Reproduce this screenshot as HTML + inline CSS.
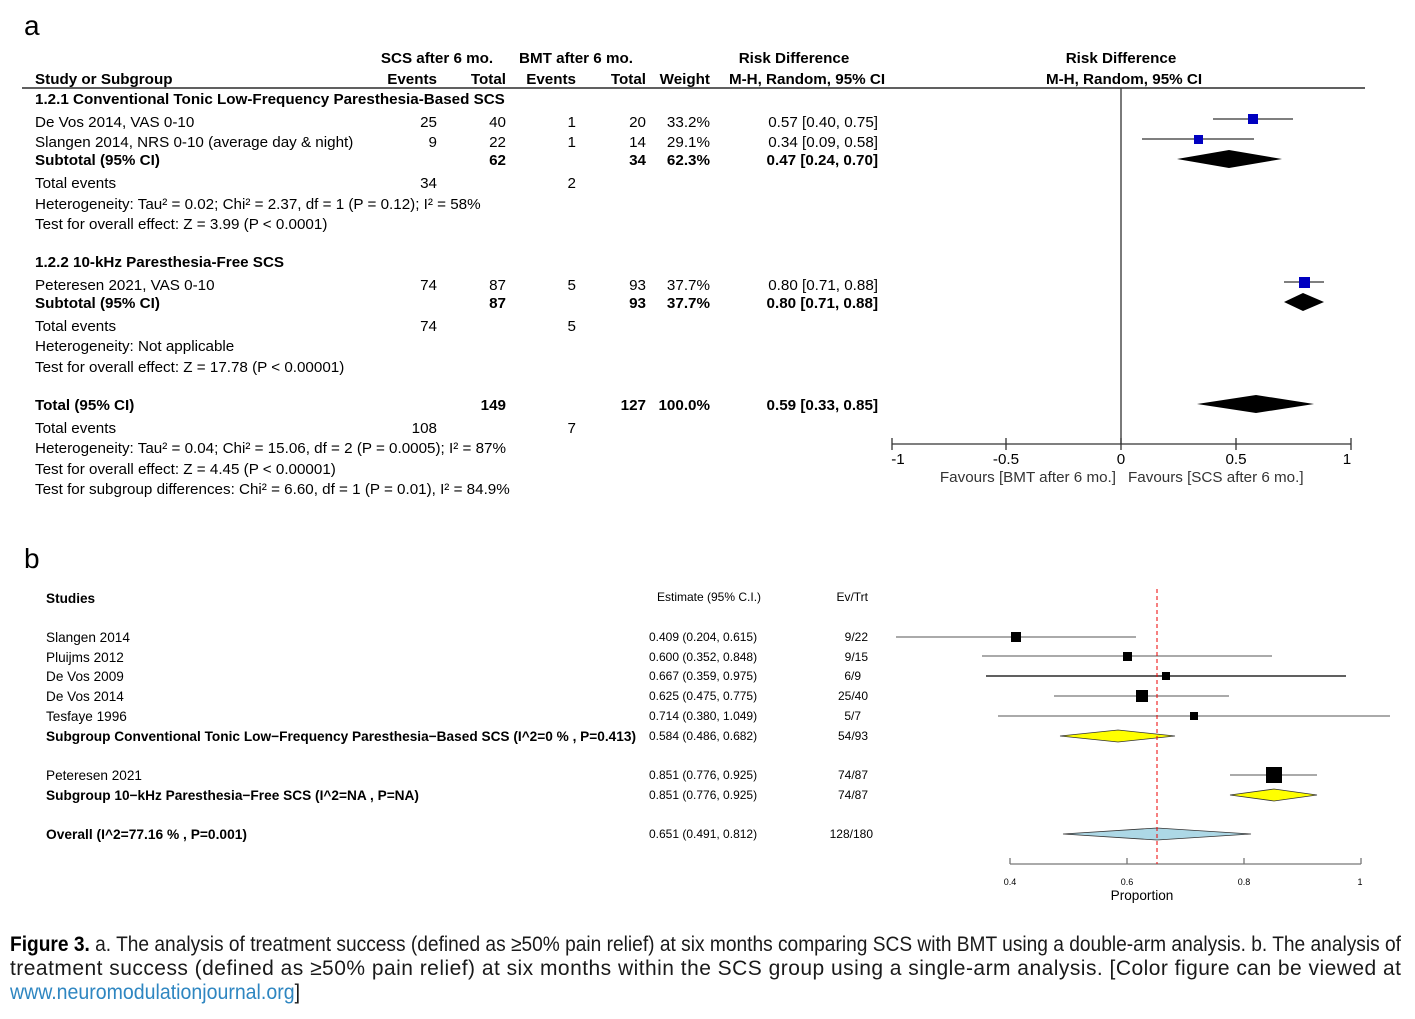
<!DOCTYPE html>
<html><head><meta charset="utf-8"><style>
html,body{margin:0;padding:0;background:#fff}
svg{display:block}
.a{font-family:"Liberation Sans",Arial,sans-serif;font-size:15.2px;fill:#000}
.b{font-weight:bold}
.p{font-family:"Liberation Sans Narrow","Liberation Sans",sans-serif;font-size:13.6px;fill:#000}
.e{font-family:"Liberation Sans Narrow","Liberation Sans",sans-serif;font-size:12px;fill:#000}
.c{font-family:"Liberation Sans Narrow","Liberation Sans",sans-serif;font-size:21px;fill:#1a1a1a}
</style></head><body>
<svg width="1415" height="1019" viewBox="0 0 1415 1019" xmlns="http://www.w3.org/2000/svg">
<text x="24" y="35" font-family="Liberation Sans,sans-serif" font-size="28">a</text>
<text x="24" y="568" font-family="Liberation Sans,sans-serif" font-size="28">b</text>
<g class="a b">
<text x="437" y="63" text-anchor="middle">SCS after 6 mo.</text>
<text x="576" y="63" text-anchor="middle">BMT after 6 mo.</text>
<text x="794" y="63" text-anchor="middle">Risk Difference</text>
<text x="1121" y="63" text-anchor="middle">Risk Difference</text>
<text x="35" y="84">Study or Subgroup</text>
<text x="437" y="84" text-anchor="end">Events</text>
<text x="506" y="84" text-anchor="end">Total</text>
<text x="576" y="84" text-anchor="end">Events</text>
<text x="646" y="84" text-anchor="end">Total</text>
<text x="710" y="84" text-anchor="end">Weight</text>
<text x="807" y="84" text-anchor="middle">M-H, Random, 95% CI</text>
<text x="1124" y="84" text-anchor="middle">M-H, Random, 95% CI</text>
<text x="35" y="104">1.2.1 Conventional Tonic Low-Frequency Paresthesia-Based SCS</text>
<text x="35" y="165">Subtotal (95% CI)</text>
<text x="506" y="165" text-anchor="end">62</text>
<text x="646" y="165" text-anchor="end">34</text>
<text x="710" y="165" text-anchor="end">62.3%</text>
<text x="878" y="165" text-anchor="end">0.47 [0.24, 0.70]</text>
<text x="35" y="267">1.2.2 10-kHz Paresthesia-Free SCS</text>
<text x="35" y="308">Subtotal (95% CI)</text>
<text x="506" y="308" text-anchor="end">87</text>
<text x="646" y="308" text-anchor="end">93</text>
<text x="710" y="308" text-anchor="end">37.7%</text>
<text x="878" y="308" text-anchor="end">0.80 [0.71, 0.88]</text>
<text x="35" y="410">Total (95% CI)</text>
<text x="506" y="410" text-anchor="end">149</text>
<text x="646" y="410" text-anchor="end">127</text>
<text x="710" y="410" text-anchor="end">100.0%</text>
<text x="878" y="410" text-anchor="end">0.59 [0.33, 0.85]</text>
</g>
<line x1="22" y1="88" x2="1365" y2="88" stroke="#000" stroke-width="1.3"/>
<g class="a">
<text x="35" y="127">De Vos 2014, VAS 0-10</text>
<text x="437" y="127" text-anchor="end">25</text><text x="506" y="127" text-anchor="end">40</text>
<text x="576" y="127" text-anchor="end">1</text><text x="646" y="127" text-anchor="end">20</text>
<text x="710" y="127" text-anchor="end">33.2%</text><text x="878" y="127" text-anchor="end">0.57 [0.40, 0.75]</text>
<text x="35" y="147">Slangen 2014, NRS 0-10 (average day &amp; night)</text>
<text x="437" y="147" text-anchor="end">9</text><text x="506" y="147" text-anchor="end">22</text>
<text x="576" y="147" text-anchor="end">1</text><text x="646" y="147" text-anchor="end">14</text>
<text x="710" y="147" text-anchor="end">29.1%</text><text x="878" y="147" text-anchor="end">0.34 [0.09, 0.58]</text>
<text x="35" y="188">Total events</text><text x="437" y="188" text-anchor="end">34</text><text x="576" y="188" text-anchor="end">2</text>
<text x="35" y="209">Heterogeneity: Tau² = 0.02; Chi² = 2.37, df = 1 (P = 0.12); I² = 58%</text>
<text x="35" y="229">Test for overall effect: Z = 3.99 (P &lt; 0.0001)</text>
<text x="35" y="290">Peteresen 2021, VAS 0-10</text>
<text x="437" y="290" text-anchor="end">74</text><text x="506" y="290" text-anchor="end">87</text>
<text x="576" y="290" text-anchor="end">5</text><text x="646" y="290" text-anchor="end">93</text>
<text x="710" y="290" text-anchor="end">37.7%</text><text x="878" y="290" text-anchor="end">0.80 [0.71, 0.88]</text>
<text x="35" y="331">Total events</text><text x="437" y="331" text-anchor="end">74</text><text x="576" y="331" text-anchor="end">5</text>
<text x="35" y="351">Heterogeneity: Not applicable</text>
<text x="35" y="372">Test for overall effect: Z = 17.78 (P &lt; 0.00001)</text>
<text x="35" y="433">Total events</text><text x="437" y="433" text-anchor="end">108</text><text x="576" y="433" text-anchor="end">7</text>
<text x="35" y="453">Heterogeneity: Tau² = 0.04; Chi² = 15.06, df = 2 (P = 0.0005); I² = 87%</text>
<text x="35" y="474">Test for overall effect: Z = 4.45 (P &lt; 0.00001)</text>
<text x="35" y="494">Test for subgroup differences: Chi² = 6.60, df = 1 (P = 0.01), I² = 84.9%</text>
</g>
<g stroke="#333" stroke-width="1.3">
<line x1="1121" y1="88" x2="1121" y2="444"/>
<line x1="892" y1="444" x2="1351" y2="444"/>
<line x1="892" y1="438" x2="892" y2="450"/><line x1="1006" y1="438" x2="1006" y2="450"/>
<line x1="1121" y1="438" x2="1121" y2="450"/><line x1="1236" y1="438" x2="1236" y2="450"/>
<line x1="1351" y1="438" x2="1351" y2="450"/>
<line x1="1213" y1="119" x2="1293" y2="119"/>
<line x1="1142" y1="139" x2="1254" y2="139"/>
<line x1="1284" y1="282" x2="1324" y2="282"/>
</g>
<g fill="#0000c0">
<rect x="1248" y="114" width="10" height="10"/>
<rect x="1194" y="135" width="9" height="9"/>
<rect x="1299" y="277" width="11" height="11"/>
</g>
<polygon points="1177,159 1229,150 1282,159 1229,168" fill="#000"/>
<polygon points="1284,302 1303,293 1324,302 1303,311" fill="#000"/>
<polygon points="1197,404 1256,395 1314,404 1256,413" fill="#000"/>
<g class="a">
<text x="898" y="464" text-anchor="middle">-1</text>
<text x="1006" y="464" text-anchor="middle">-0.5</text>
<text x="1121" y="464" text-anchor="middle">0</text>
<text x="1236" y="464" text-anchor="middle">0.5</text>
<text x="1347" y="464" text-anchor="middle">1</text>
<text x="1116" y="482" text-anchor="end" style="fill:#333">Favours [BMT after 6 mo.]</text>
<text x="1128" y="482" style="fill:#333">Favours [SCS after 6 mo.]</text>
</g>
<g class="p">
<text x="46" y="603" font-weight="bold">Studies</text>
<text x="46" y="642">Slangen 2014</text>
<text x="46" y="662">Pluijms 2012</text>
<text x="46" y="681">De Vos 2009</text>
<text x="46" y="701">De Vos 2014</text>
<text x="46" y="721">Tesfaye 1996</text>
<text x="46" y="741" font-weight="bold" textLength="590" lengthAdjust="spacingAndGlyphs">Subgroup Conventional Tonic Low−Frequency Paresthesia−Based SCS (I^2=0 % , P=0.413)</text>
<text x="46" y="780">Peteresen 2021</text>
<text x="46" y="800" font-weight="bold" textLength="373" lengthAdjust="spacingAndGlyphs">Subgroup 10−kHz Paresthesia−Free SCS (I^2=NA , P=NA)</text>
<text x="46" y="839" font-weight="bold" textLength="201" lengthAdjust="spacingAndGlyphs">Overall (I^2=77.16 % , P=0.001)</text>
</g>
<g class="e">
<text x="657" y="601">Estimate (95% C.I.)</text>
<text x="868" y="601" text-anchor="end">Ev/Trt</text>
<text x="649" y="641">0.409 (0.204, 0.615)</text><text x="868" y="641" text-anchor="end">9/22</text>
<text x="649" y="661">0.600 (0.352, 0.848)</text><text x="868" y="661" text-anchor="end">9/15</text>
<text x="649" y="680">0.667 (0.359, 0.975)</text><text x="861" y="680" text-anchor="end">6/9</text>
<text x="649" y="700">0.625 (0.475, 0.775)</text><text x="868" y="700" text-anchor="end">25/40</text>
<text x="649" y="720">0.714 (0.380, 1.049)</text><text x="861" y="720" text-anchor="end">5/7</text>
<text x="649" y="740">0.584 (0.486, 0.682)</text><text x="868" y="740" text-anchor="end">54/93</text>
<text x="649" y="779">0.851 (0.776, 0.925)</text><text x="868" y="779" text-anchor="end">74/87</text>
<text x="649" y="799">0.851 (0.776, 0.925)</text><text x="868" y="799" text-anchor="end">74/87</text>
<text x="649" y="838">0.651 (0.491, 0.812)</text><text x="873" y="838" text-anchor="end">128/180</text>
</g>
<g stroke="#777" stroke-width="1.3">
<line x1="896" y1="637" x2="1136" y2="637"/>
<line x1="982" y1="656" x2="1272" y2="656"/>
<line x1="986" y1="676" x2="1346" y2="676" stroke="#000"/>
<line x1="1054" y1="696" x2="1229" y2="696"/>
<line x1="998" y1="716" x2="1390" y2="716"/>
<line x1="1230" y1="775" x2="1317" y2="775"/>
<line x1="1010" y1="864" x2="1361" y2="864"/>
<line x1="1010" y1="864" x2="1010" y2="858"/><line x1="1127" y1="864" x2="1127" y2="858"/>
<line x1="1244" y1="864" x2="1244" y2="858"/><line x1="1361" y1="864" x2="1361" y2="858"/>
</g>
<g fill="#000">
<rect x="1011" y="632" width="10" height="10"/>
<rect x="1123" y="652" width="9" height="9"/>
<rect x="1162" y="672" width="8" height="8"/>
<rect x="1136" y="690" width="12" height="12"/>
<rect x="1190" y="712" width="8" height="8"/>
<rect x="1266" y="767" width="16" height="16"/>
</g>
<polygon points="1060,736 1118,730 1175,736 1118,742" fill="#ffff00" stroke="#333" stroke-width="0.8"/>
<polygon points="1230,795 1274,789 1317,795 1274,801" fill="#ffff00" stroke="#333" stroke-width="0.8"/>
<polygon points="1063,834 1157,828 1251,834 1157,840" fill="#add8e6" stroke="#333" stroke-width="0.8"/>
<line x1="1157" y1="589" x2="1157" y2="864" stroke="#e00" stroke-width="1" stroke-dasharray="4,3"/>
<g class="e">
<text x="1010" y="885" text-anchor="middle" font-size="9">0.4</text>
<text x="1127" y="885" text-anchor="middle" font-size="9">0.6</text>
<text x="1244" y="885" text-anchor="middle" font-size="9">0.8</text>
<text x="1360" y="885" text-anchor="middle" font-size="9">1</text>
</g>
<text x="1142" y="900" text-anchor="middle" class="p" font-size="14">Proportion</text>
<text class="c" x="10" y="951" textLength="1391" lengthAdjust="spacingAndGlyphs"><tspan font-weight="bold" style="fill:#000">Figure 3.</tspan> a. The analysis of treatment success (defined as ≥50% pain relief) at six months comparing SCS with BMT using a double-arm analysis. b. The analysis of</text>
<text class="c" x="10" y="975" textLength="1391" lengthAdjust="spacing">treatment success (defined as ≥50% pain relief) at six months within the SCS group using a single-arm analysis. [Color figure can be viewed at</text>
<text class="c" x="10" y="999" style="fill:#2e86c1" textLength="290" lengthAdjust="spacingAndGlyphs">www.neuromodulationjournal.org<tspan style="fill:#1a1a1a">]</tspan></text>
</svg>
</body></html>
